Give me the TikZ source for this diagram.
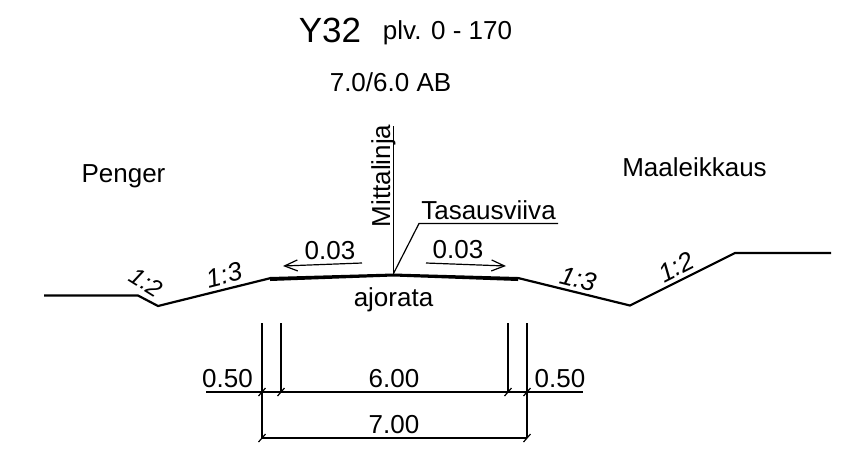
\documentclass[tikz,border=0pt]{standalone}
\usepackage{fontspec}
\setmainfont{Liberation Sans}
\usetikzlibrary{arrows.meta}
\tikzset{
  ground/.style={line width=2.2pt},
  thin line/.style={line width=1.2pt},
  dimtick/.style={line width=1.2pt},
  label/.style={inner sep=0pt, anchor=base, font=\fontsize{26}{30}\selectfont},
  slope/.style={inner sep=0pt, font=\fontsize{26}{30}\selectfont\itshape},
}
\begin{document}
\begin{tikzpicture}[x=1pt, y=-1pt]
\useasboundingbox (0, 0) rectangle (858, 451);

\node (title) at (330, 42) [label, font=\fontsize{35}{40}\selectfont] {Y32};
\node (km) at (447.5, 39) [label] {plv. 0 - 170};
\node (width) at (390.5, 91) [label] {7.0/6.0 AB};
\node (Penger) at (123.5, 182) [label] {Penger};
\node (Maaleikkaus) at (694.5, 176) [label] {Maaleikkaus};

\coordinate (G1) at (44, 295.5);
\coordinate (G2) at (138, 295.5);
\coordinate (G3) at (158, 306);
\coordinate (G4) at (271, 278);
\coordinate (G5) at (518, 278);
\coordinate (G6) at (630, 305.5);
\coordinate (G7) at (735, 253);
\coordinate (G8) at (831, 253);
\coordinate (C) at (393.5, 273.5);
\coordinate (M) at (393.5, 126);
\coordinate (T1) at (419, 223.5);
\coordinate (T2) at (558, 223.5);

\draw[ground] (G1) to (G2) to (G3) to (G4);
\draw[ground] (G5) to (G6) to (G7) to (G8);
\fill (270, 277) -- (C) -- (518, 277) -- (518, 281) -- (393.5, 276.5) -- (270, 281) -- cycle;

\draw[thin line] (C) to (M);
\draw[thin line] (C) to (T1) to (T2);
\node (mittalinja) at (390, 176) [label, rotate=90] {Mittalinja};
\node (tasausviiva) at (488.5, 219) [label] {Tasausviiva};
\node (ajorata) at (393.5, 306) [label] {ajorata};

\coordinate (A1) at (362, 263);
\coordinate (A2) at (283, 266);
\coordinate (A3) at (426, 263);
\coordinate (A4) at (506, 266);
\draw[thin line, -{Straight Barb[length=13pt, width=11pt]}] (A1) to (A2);
\draw[thin line, -{Straight Barb[length=13pt, width=11pt]}] (A3) to (A4);
\node (sl1) at (330, 259) [label] {0.03};
\node (sl2) at (458, 258) [label] {0.03};

\node (s1) at (146.5, 282.5) [slope, rotate=-32, font=\fontsize{24}{28}\selectfont\itshape] {1:2};
\node (s2) at (224, 275) [slope, rotate=14] {1:3};
\node (s3) at (578, 279) [slope, rotate=-14] {1:3};
\node (s4) at (676, 267) [slope, rotate=27] {1:2};

\coordinate (V1) at (262, 323);
\coordinate (V2) at (281, 323);
\coordinate (V3) at (508, 323);
\coordinate (V4) at (527, 323);
\coordinate (D1) at (262, 392);
\coordinate (D2) at (281, 392);
\coordinate (D3) at (508, 392);
\coordinate (D4) at (527, 392);
\coordinate (L) at (206, 392);
\coordinate (R) at (583, 392);
\coordinate (B1) at (262, 438);
\coordinate (B2) at (527, 438);

\draw[thin line] (V1) to (B1);
\draw[thin line] (V2) to (D2);
\draw[thin line] (V3) to (D3);
\draw[thin line] (V4) to (B2);
\draw[thin line] (L) to (R);
\draw[thin line] (B1) to (B2);

\foreach \p in {D1, D2, D3, D4, B1, B2}
  \draw[dimtick] ([shift={(-3.5, 4)}]\p) to ([shift={(3.5, -4)}]\p);

\node (d1) at (227.5, 387) [label] {0.50};
\node (d2) at (394, 387) [label] {6.00};
\node (d3) at (560, 387) [label] {0.50};
\node (d4) at (394, 433) [label] {7.00};
\end{tikzpicture}
\end{document}
